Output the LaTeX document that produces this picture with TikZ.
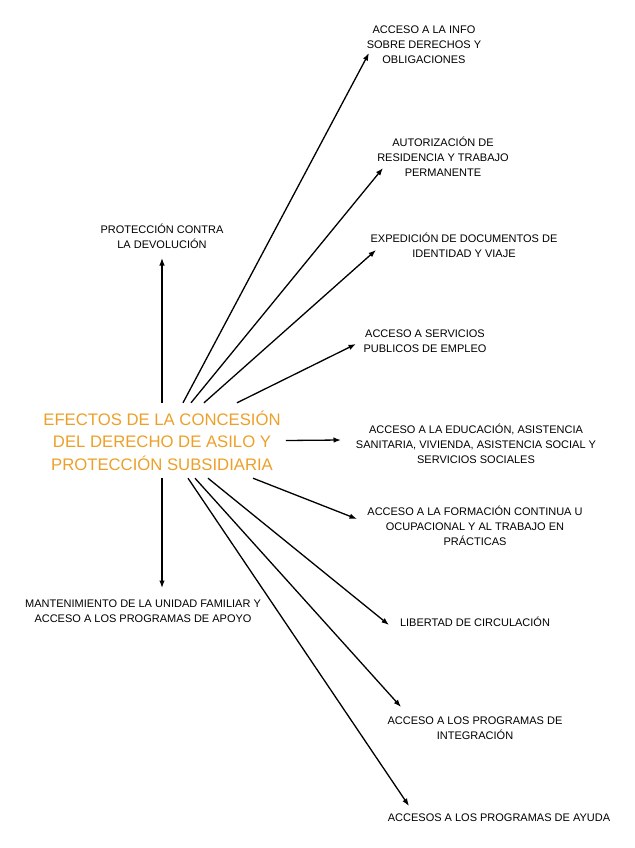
\documentclass[tikz,border=0pt]{standalone}
\usepackage{fontspec}
\setmainfont{Liberation Sans}
\usepackage{xcolor}
\usetikzlibrary{arrows.meta,positioning,calc}
\definecolor{hubcolor}{RGB}{236,160,40}
\tikzset{
  efectohub/.style={
    align=center,
    text=hubcolor,
    font=\fontsize{16.7}{22.5}\selectfont,
    inner xsep=5pt,
    inner ysep=0pt,
    minimum height=75pt
  },
  efectobox/.style={
    align=center,
    inner sep=0pt,
    font=\fontsize{11}{15}\selectfont
  },
  efectoarrow/.style={
    -{Latex[length=7.5pt,width=5.5pt]},
    line width=1.3pt
  }
}

\begin{document}
\begin{tikzpicture}[x=1pt,y=-1pt]
    \useasboundingbox (0,0) rectangle (634,848);
    \node[efectohub] (hub) at (162,440.5) {EFECTOS DE LA CONCESIÓN\\DEL DERECHO DE ASILO Y\\PROTECCIÓN SUBSIDIARIA};

    \node[efectobox] (info) at (424,45) {ACCESO A LA INFO\\SOBRE DERECHOS Y\\OBLIGACIONES};
    \node[efectobox] (autor) at (443,157) {AUTORIZACIÓN DE\\RESIDENCIA Y TRABAJO\\PERMANENTE};
    \node[efectobox] (expe) at (464,245.5) {EXPEDICIÓN DE DOCUMENTOS DE\\IDENTIDAD Y VIAJE};
    \node[efectobox] (serv) at (425,341) {ACCESO A SERVICIOS\\PUBLICOS DE EMPLEO};
    \node[efectobox] (edu) at (476,444) {ACCESO A LA EDUCACIÓN, ASISTENCIA\\SANITARIA, VIVIENDA, ASISTENCIA SOCIAL Y\\SERVICIOS SOCIALES};
    \node[efectobox] (form) at (475,526) {ACCESO A LA FORMACIÓN CONTINUA U\\OCUPACIONAL Y AL TRABAJO EN\\PRÁCTICAS};
    \node[efectobox] (lib) at (475,622) {LIBERTAD DE CIRCULACIÓN};
    \node[efectobox] (integ) at (475,728.5) {ACCESO A LOS PROGRAMAS DE\\INTEGRACIÓN};
    \node[efectobox] (ayuda) at (499,818) {ACCESOS A LOS PROGRAMAS DE AYUDA};
    \node[efectobox] (prot) at (162,236.5) {PROTECCIÓN CONTRA\\LA DEVOLUCIÓN};
    \node[efectobox] (mant) at (143,611) {MANTENIMIENTO DE LA UNIDAD FAMILIAR Y\\ACCESO A LOS PROGRAMAS DE APOYO};

    % arrows leaving the top edge
    \draw[efectoarrow] (hub.north) -- ([shift={(0,21.5)}]prot.center);
    \draw[efectoarrow] ([xshift=21pt]hub.north) -- ([shift={(-55,8)}]info.center);
    \draw[efectoarrow] ([xshift=29pt]hub.north) -- ([shift={(-60,11)}]autor.center);
    \draw[efectoarrow] ([xshift=42pt]hub.north) -- ([shift={(-88,4.5)}]expe.center);
    \draw[efectoarrow] ([xshift=75pt]hub.north) -- ([shift={(-69,3)}]serv.center);
    % arrow to the right
    \draw[efectoarrow] (hub.east) -- ([shift={(-135,-4)}]edu.center);
    % arrows leaving the bottom edge
    \draw[efectoarrow] ([xshift=91pt]hub.south) -- ([shift={(-118,-7)}]form.center);
    \draw[efectoarrow] ([xshift=46pt]hub.south) -- ([shift={(-86,3)}]lib.center);
    \draw[efectoarrow] ([xshift=33pt]hub.south) -- ([shift={(-74,-21.5)}]integ.center);
    \draw[efectoarrow] ([xshift=26pt]hub.south) -- ([shift={(-90,-12)}]ayuda.center);
    \draw[efectoarrow] (hub.south) -- ([shift={(19,-23)}]mant.center);
\end{tikzpicture}
\end{document}
